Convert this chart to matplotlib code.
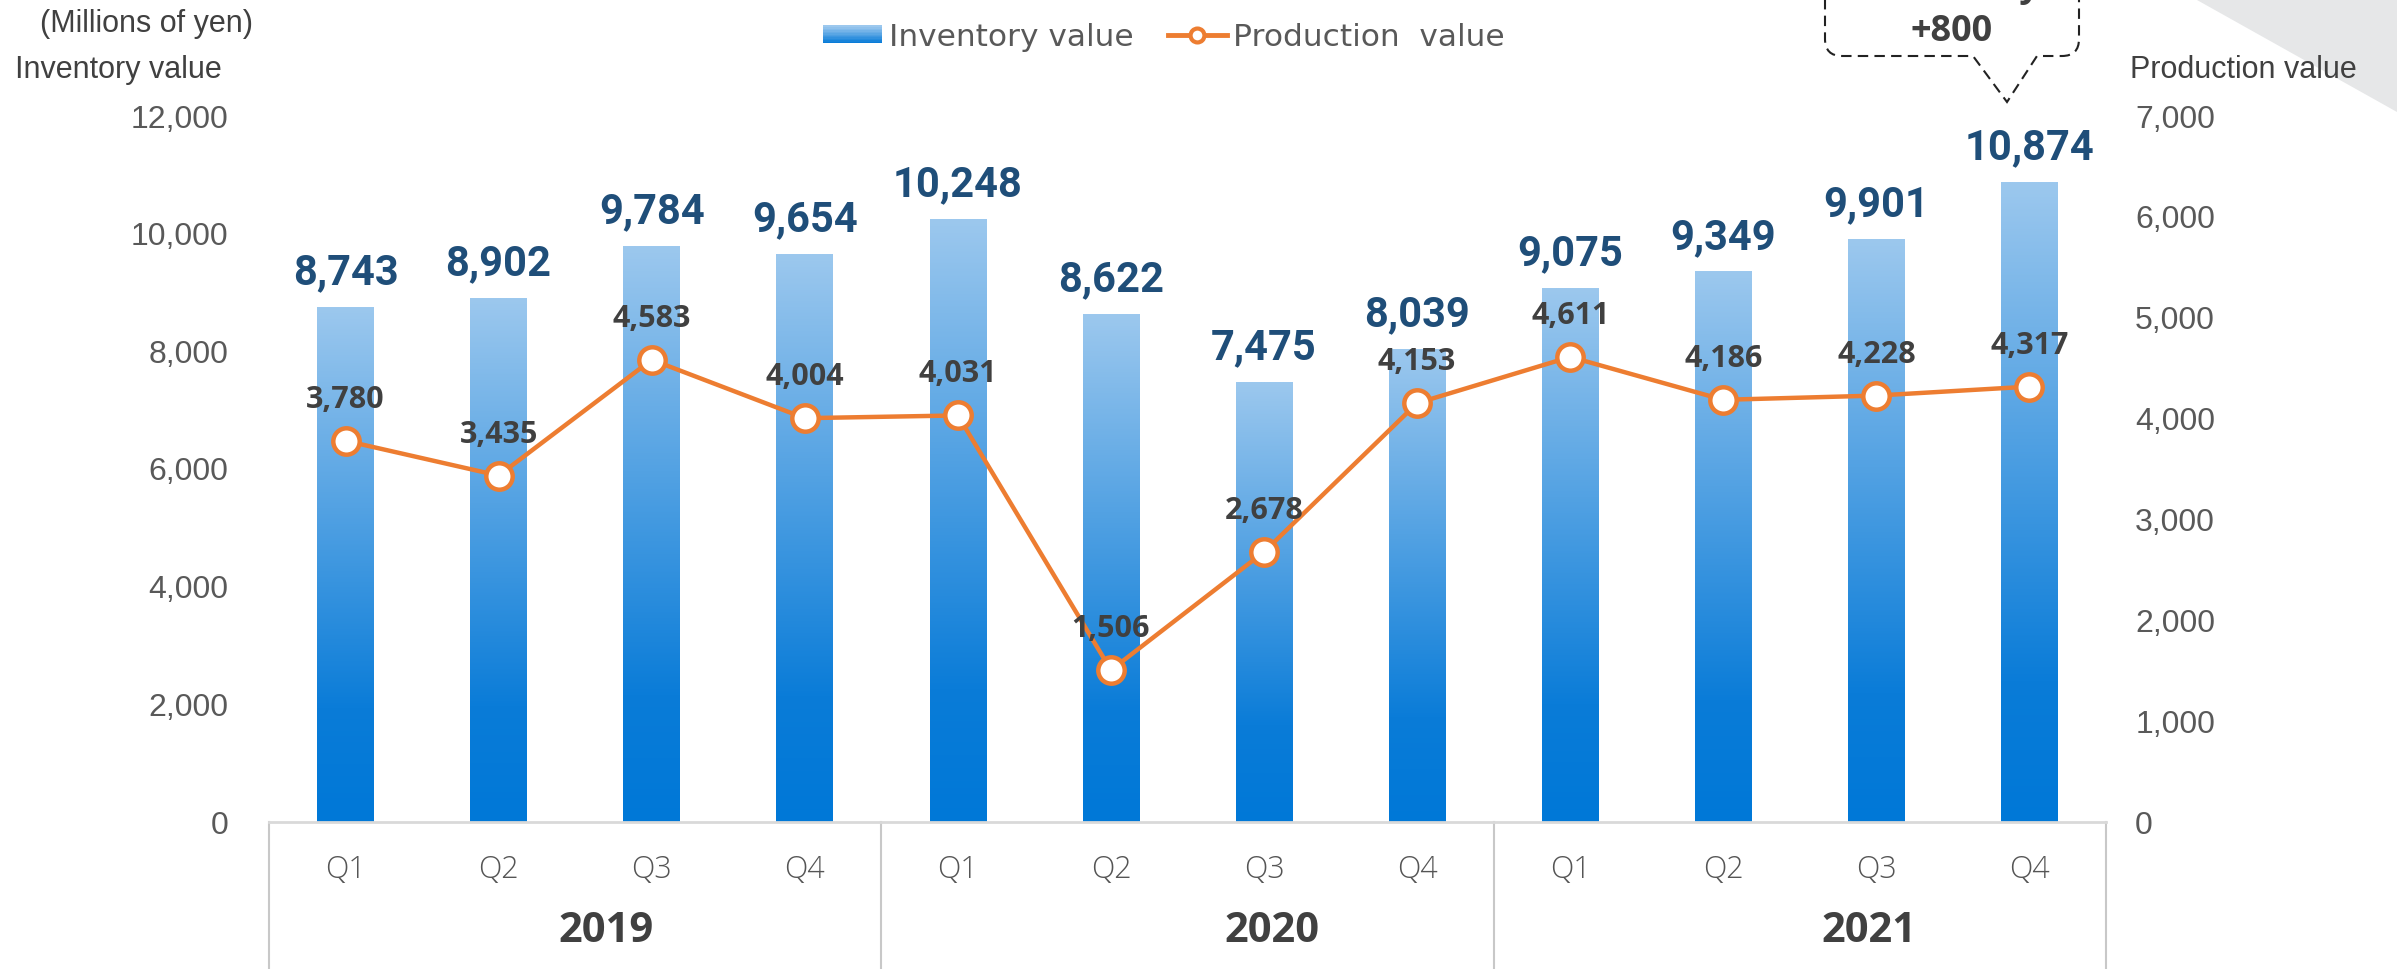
import numpy as np
import matplotlib
matplotlib.use('Agg')
import matplotlib.pyplot as plt
import matplotlib.transforms as mtransforms
from matplotlib.colors import LinearSegmentedColormap
from matplotlib.lines import Line2D
from matplotlib.patches import Rectangle, PathPatch, Polygon
from matplotlib.path import Path
from matplotlib.legend_handler import HandlerBase

plt.rcParams['font.family'] = ['Liberation Sans', 'DejaVu Sans']

# data
quarters = ['Q1', 'Q2', 'Q3', 'Q4'] * 3
years = ['2019', '2020', '2021']
inventory = [8743, 8902, 9784, 9654, 10248, 8622, 7475, 8039, 9075, 9349, 9901, 10874]
production = [3780, 3435, 4583, 4004, 4031, 1506, 2678, 4153, 4611, 4186, 4228, 4317]
left_ticks = list(range(0, 12001, 2000))
right_ticks = list(range(0, 7001, 1000))
callout_text = ['Inventory', '+800']

W, H = 2397, 969


def fx(px):
    return px / W


def fy(py):
    return 1 - py / H


fig = plt.figure(figsize=(W / 100, H / 100), dpi=100)
fig.patch.set_facecolor('white')

# grey corner shape top right
fig.add_artist(Polygon([(fx(2197), fy(0)), (fx(W), fy(0)), (fx(W), fy(112))],
                       closed=True, transform=fig.transFigure,
                       facecolor='#E6E7E8', edgecolor='none', zorder=0))

ax = fig.add_axes([fx(269), 147 / H, (2106 - 269) / W, 706 / H])
ax.patch.set_alpha(0)
ax2 = ax.twinx()

x = np.arange(len(inventory))
bw = 0.37
cmap = LinearSegmentedColormap.from_list(
    'bars', [(0, '#0078D7'), (0.22, '#0A7CD8'), (1, '#9CC8EE')])
grad = np.linspace(0, 1, 256).reshape(-1, 1)

bars = ax.bar(x, inventory, width=bw, color='none', edgecolor='none')
for b in bars:
    x0, h = b.get_x(), b.get_height()
    ax.imshow(grad, cmap=cmap, origin='lower', aspect='auto',
              extent=(x0, x0 + bw, 0, h), zorder=2)

for xi, v in zip(x, inventory):
    ax.annotate(f'{v:,}', (xi, v), xytext=(0, 25), textcoords='offset points',
                ha='center', va='center', fontsize=30, fontweight='bold',
                color='#1F4E79', family='Roboto')

ax2.plot(x, production, color='#ED7D31', lw=3.2, marker='o', ms=19,
         mfc='white', mec='#ED7D31', mew=3.2, zorder=3)
for xi, v in zip(x, production):
    ax2.annotate(f'{v:,}', (xi, v), xytext=(0, 29.5), textcoords='offset points',
                 ha='center', va='center', fontsize=22, fontweight='bold',
                 color='#404040', family='Open Sans')

ax.set_xlim(-0.5, 11.5)
ax.set_ylim(0, 12000)
ax2.set_ylim(0, 7000)

for a in (ax, ax2):
    for s in a.spines.values():
        s.set_visible(False)
ax.spines['bottom'].set_visible(True)
ax.spines['bottom'].set_color('#D9D9D9')
ax.spines['bottom'].set_linewidth(2)

ax.set_xticks([])
ax.set_yticks(left_ticks)
ax.set_yticklabels([f'{v:,}' for v in left_ticks])
ax.tick_params(axis='y', length=0, pad=29, labelsize=23, labelcolor='#595959')
ax2.set_yticks(right_ticks)
ax2.set_yticklabels([f'{v:,}' for v in right_ticks])
ax2.tick_params(axis='y', length=0, pad=21, labelsize=23, labelcolor='#595959')

# two-level category axis
trans = mtransforms.blended_transform_factory(ax.transData, ax.transAxes)
for xi, q in zip(x, quarters):
    ax.text(xi, -48 / 706, q, transform=trans, ha='center', va='center',
            fontsize=22, color='#555555', family='Open Sans', fontweight='light')
year_x = [1.7, 6.05, 9.95]
for yx, yr in zip(year_x, years):
    ax.text(yx, -109 / 706, yr, transform=trans, ha='center', va='center',
            fontsize=30, fontweight='bold', color='#404040', family='Open Sans')
for sx in [-0.5, 3.5, 7.5, 11.5]:
    ax.plot([sx, sx], [0, -0.22], transform=trans, color='#C8C8C8', lw=1.5,
            clip_on=False)

# axis titles
fig.text(fx(40), fy(24), '(Millions of yen)', ha='left', va='center',
         fontsize=22, color='#404040')
fig.text(fx(15), fy(70), 'Inventory value', ha='left', va='center',
         fontsize=22, color='#404040')
fig.text(fx(2130), fy(70), 'Production value', ha='left', va='center',
         fontsize=22, color='#404040')


class GradientHandler(HandlerBase):
    def create_artists(self, legend, orig_handle, xdescent, ydescent,
                       width, height, fontsize, trans):
        n = 12
        hh = height * 0.8
        y0 = -ydescent + (height - hh) / 2
        arts = []
        for i in range(n):
            arts.append(Rectangle((-xdescent, y0 + i * hh / n), width, hh / n + 0.3,
                                  facecolor=cmap(0.22 + 0.78 * i / (n - 1)),
                                  edgecolor='none', transform=trans))
        return arts


inv_handle = Rectangle((0, 0), 1, 1)
prod_handle = Line2D([], [], color='#ED7D31', lw=3.5, marker='o', ms=10,
                     mfc='white', mew=3)
fig.legend([inv_handle, prod_handle], ['Inventory value', 'Production  value'],
           handler_map={Rectangle: GradientHandler()}, loc='center',
           bbox_to_anchor=(fx(1164), fy(37)), ncol=2, frameon=False,
           prop={'family': 'DejaVu Sans', 'size': 22.5}, handlelength=1.9,
           handletextpad=0.2, columnspacing=1.1, labelcolor='#595959')

# dashed callout bubble (top cut off)
left, right, bot, r = 1825, 2079, 56, 17
top = -40
tipx, tipy, gl, gr = 2007, 102, 1973, 2037
pts = [(left, top), (left, bot - r), (left, bot), (left + r, bot), (gl, bot),
       (tipx, tipy), (gr, bot), (right - r, bot), (right, bot), (right, bot - r),
       (right, top)]
codes = [Path.MOVETO, Path.LINETO, Path.CURVE3, Path.CURVE3, Path.LINETO,
         Path.LINETO, Path.LINETO, Path.LINETO, Path.CURVE3, Path.CURVE3,
         Path.LINETO]
bubble = Path([(fx(px), fy(py)) for px, py in pts], codes)
fig.add_artist(PathPatch(bubble, fill=False, edgecolor='#222222', lw=1.5,
                         linestyle=(0, (5, 3)), transform=fig.transFigure))
fig.text(fx(1952), fy(-13), callout_text[0], ha='center', va='center',
         fontsize=26, fontweight='bold', color='#404040', family='Open Sans')
fig.text(fx(1952), fy(32), callout_text[1], ha='center', va='center',
         fontsize=26, fontweight='bold', color='#404040', family='Open Sans')

fig.savefig('out.png', dpi=100)
